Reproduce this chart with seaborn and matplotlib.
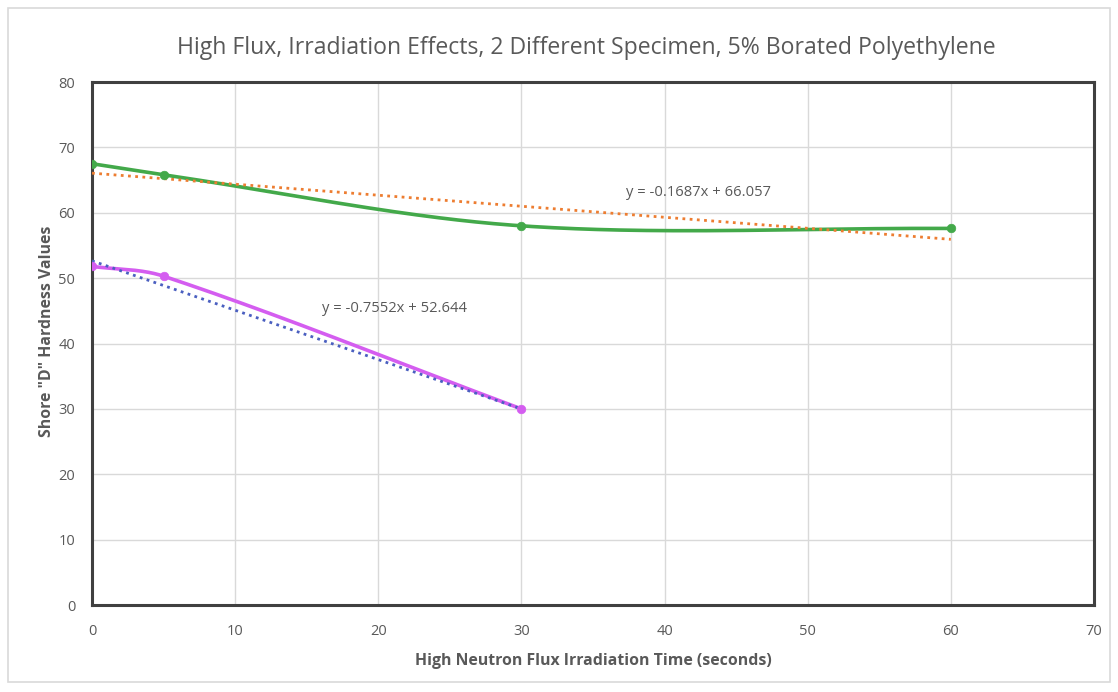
import numpy as np
import pandas as pd
import matplotlib
matplotlib.use("Agg")
import matplotlib.pyplot as plt
import seaborn as sns
from matplotlib.patches import Rectangle

# Irradiation time (seconds) and Shore "D" hardness for the two specimens
time_a = [0, 5, 30, 60]
hardness_a = [67.5, 65.8, 58.0, 57.6]
time_b = [0, 5, 30]
hardness_b = [51.8, 50.3, 30.0]

# Linear trendline coefficients (slope, intercept) as reported on the chart
trend_a = (-0.1687, 66.057)
trend_b = (-0.7552, 52.644)

title = "High Flux, Irradiation Effects, 2 Different Specimen, 5% Borated Polyethylene"
xlabel = "High Neutron Flux Irradiation Time (seconds)"
ylabel = 'Shore "D" Hardness Values'
xticks = [0, 10, 20, 30, 40, 50, 60, 70]
yticks = [0, 10, 20, 30, 40, 50, 60, 70, 80]

GREEN = "#43A94A"
MAGENTA = "#D45DF0"
ORANGE = "#ED7D31"
BLUE = "#4A5FC0"
TEXT = "#595959"

# screen scale of the plot area (pixels per data unit), used for smoothing
XSCALE = 1000 / 70
YSCALE = 523 / 80


def smooth_curve(xs, ys, n=80):
    """Bezier smoothing through the points, tangents sized by segment length."""
    pts = np.column_stack([np.asarray(xs, float) * XSCALE, np.asarray(ys, float) * YSCALE])
    m = len(pts)
    dirs = []
    for i in range(m):
        a = pts[max(i - 1, 0)]
        b = pts[min(i + 1, m - 1)]
        d = b - a
        dirs.append(d / np.linalg.norm(d))
    out = []
    t = np.linspace(0, 1, n)[:, None]
    for i in range(m - 1):
        p1, p2 = pts[i], pts[i + 1]
        L = np.linalg.norm(p2 - p1)
        c1 = p1 + dirs[i] * L / 3.0
        c2 = p2 - dirs[i + 1] * L / 3.0
        seg = ((1 - t) ** 3) * p1 + 3 * ((1 - t) ** 2) * t * c1 + 3 * (1 - t) * t ** 2 * c2 + t ** 3 * p2
        out.append(seg if i == 0 else seg[1:])
    curve = np.vstack(out)
    return curve[:, 0] / XSCALE, curve[:, 1] / YSCALE


sns.set_theme(style="white")
plt.rcParams["font.family"] = ["Open Sans", "DejaVu Sans"]

fig = plt.figure(figsize=(11.18, 6.92), dpi=100)
fig.patch.set_facecolor("white")
# outer chart border
fig.add_artist(Rectangle((8 / 1118, 1 - 682 / 692), 1102 / 1118, 674 / 692,
                         transform=fig.transFigure, fill=False,
                         edgecolor="#D9D9D9", linewidth=1.2))

ax = fig.add_axes([0.0823, 0.1257, 0.8962, 0.7558])

# smoothed series lines
for xs, ys, col in [(time_a, hardness_a, GREEN), (time_b, hardness_b, MAGENTA)]:
    cx, cy = smooth_curve(xs, ys)
    sdf = pd.DataFrame({"x": cx, "y": cy})
    sns.lineplot(data=sdf, x="x", y="y", sort=False, color=col, linewidth=2.6,
                 ax=ax, zorder=3)

# linear trendlines
for xs, (m, b), col in [(time_a, trend_a, ORANGE), (time_b, trend_b, BLUE)]:
    tx = np.array([min(xs), max(xs)], dtype=float)
    tdf = pd.DataFrame({"x": tx, "y": m * tx + b})
    sns.lineplot(data=tdf, x="x", y="y", color=col, linewidth=2.0,
                 linestyle=(0, (1, 1.6)), ax=ax, zorder=4)

# data markers
sns.scatterplot(x=time_a, y=hardness_a, color=GREEN, s=38, edgecolor=GREEN,
                linewidth=0.5, ax=ax, zorder=5)
sns.scatterplot(x=time_b, y=hardness_b, color=MAGENTA, s=38, edgecolor=MAGENTA,
                linewidth=0.5, ax=ax, zorder=5)

# trendline equations
ax.text(42.35, 63.1, f"y = {trend_a[0]}x + {trend_a[1]:.3f}", ha="center", va="center",
        fontsize=10.6, color=TEXT)
ax.text(21.1, 45.4, f"y = {trend_b[0]}x + {trend_b[1]:.3f}", ha="center", va="center",
        fontsize=10.6, color=TEXT)

ax.set_xlim(0, 70)
ax.set_ylim(0, 80)
ax.set_xticks(xticks)
ax.set_yticks(yticks)
ax.grid(True, color="#D9D9D9", linewidth=1.0)
ax.set_axisbelow(True)
for sp in ax.spines.values():
    sp.set_color("#404040")
    sp.set_linewidth(2.2)
ax.tick_params(axis="x", length=0, labelsize=10.5, labelcolor=TEXT, pad=14)
ax.tick_params(axis="y", length=0, labelsize=10.5, labelcolor=TEXT, pad=12)

ax.set_xlabel(xlabel, fontsize=11.4, fontweight="bold", color=TEXT, labelpad=10)
ax.set_ylabel(ylabel, fontsize=11.4, fontweight="bold", color=TEXT, labelpad=12)
ax.yaxis.set_label_coords(-0.037, 0.523)
fig.text(586 / 1118, 1 - 48 / 692, title, ha="center", va="center", fontsize=16.6, color=TEXT)

fig.savefig("out.png", dpi=100, facecolor="white")
